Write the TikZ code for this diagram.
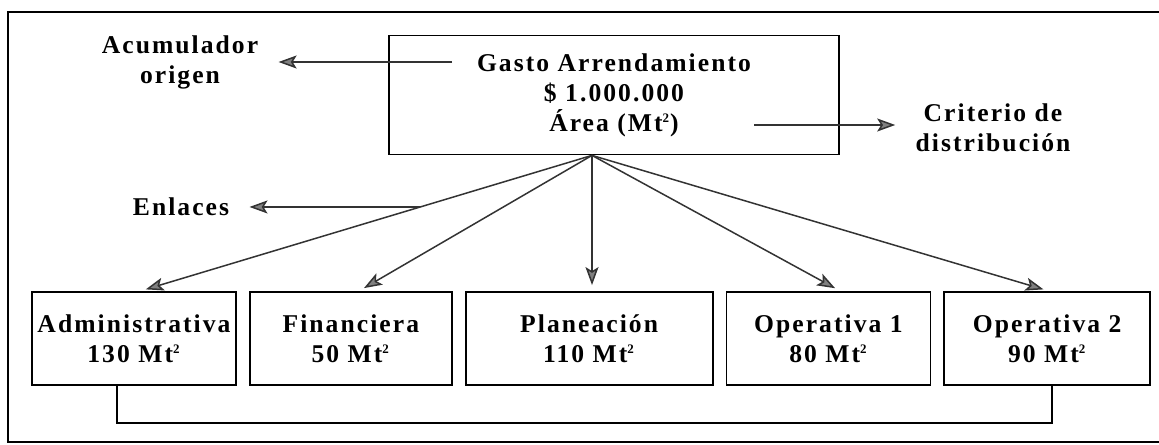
\documentclass[tikz,border=0pt]{standalone}
\usepackage{fontspec}
\setmainfont{Liberation Serif}[LetterSpace=8]
\usepackage{tikz}
\usetikzlibrary{arrows.meta, positioning, calc}
\newcommand{\mtsq}{Mt\textsuperscript{\fontsize{6.5}{7}\selectfont 2}}

\begin{document}
\begin{tikzpicture}[
            x=0.5pt, y=-0.5pt,
            node distance=6pt,
            font=\fontsize{12.8}{15}\selectfont\bfseries,
            box/.style={draw, line width=0.9pt, rectangle, inner sep=0pt, minimum height=46.5pt, align=center},
            lbl/.style={inner xsep=10pt, inner ysep=2pt, align=center},
            link/.style={->, line width=0.75pt, draw=black!80},
            >={Stealth[length=9pt, width=6.5pt, inset=2pt, fill=black!50]}
        ]
            \useasboundingbox (0,0) rectangle (1159,444);
            \draw[line width=1pt] (8,12) rectangle (1180,442);

            % cost node
            \node[box, minimum width=225pt, minimum height=59.5pt] (gasto) at (614,95)
                {Gasto Arrendamiento\\ \$ 1.000.000\\ Área (\mtsq)};
            \coordinate (hub) at ([xshift=-11pt]gasto.south);

            % side labels
            \node[lbl] (acu) at (180,62) {Acumulador\\ origen};
            \node[lbl] (crit) at (993,128) {Criterio de\\ distribución};
            \node[lbl] (enl) at (181,207) {Enlaces};

            % area nodes
            \node[box, minimum width=102pt] (adm) at (134,338.5) {Administrativa\\ 130 \mtsq};
            \node[box, minimum width=101pt, right=of adm] (fin) {Financiera\\ 50 \mtsq};
            \node[box, minimum width=123.5pt, right=of fin] (pla) {Planeación\\ 110 \mtsq};
            \node[box, minimum width=102pt, right=of pla] (op1) {Operativa 1\\ 80 \mtsq};
            \node[box, minimum width=103pt, right=of op1] (op2) {Operativa 2\\ 90 \mtsq};

            % Edges
            \coordinate (acuIn) at (452,62);
            \coordinate (areaOut) at (754,125);
            \draw[link] (acuIn) -- (acuIn -| acu.east);
            \draw[link] (areaOut) -- (areaOut -| crit.west);

            \draw[link, shorten >=3pt] (hub) -- coordinate[pos=0.38] (enlIn) ([xshift=3pt]adm.north);
            \draw[link] (enlIn) -- (enlIn -| enl.east);
            \draw[link, shorten >=3pt] (hub) -- ([xshift=4pt]fin.north);
            \draw[link, shorten >=3pt] (hub) -- (hub |- pla.north);
            \draw[link, shorten >=3pt] (hub) -- ([xshift=6pt]op1.north);
            \draw[link, shorten >=3pt] (hub) -- ([xshift=1pt]op2.north);

            \draw[line width=0.75pt] ([xshift=-8.5pt]adm.south) -- ++(0,-18.5pt) -| ([xshift=2.5pt]op2.south);
        \end{tikzpicture}
\end{document}
